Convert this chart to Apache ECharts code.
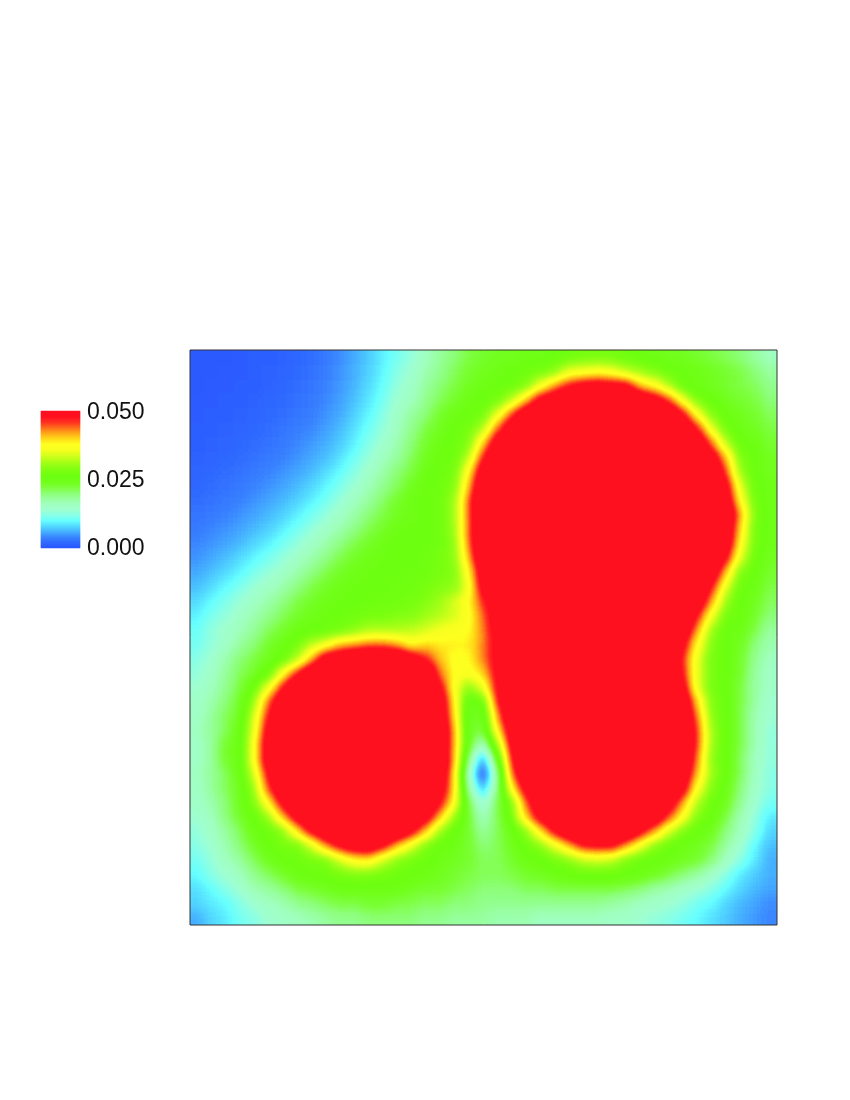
<!DOCTYPE html>
<html><head><meta charset="utf-8">
<script src="https://cdn.jsdelivr.net/npm/echarts@6/dist/echarts.min.js"></script>
<style>
html,body{margin:0;padding:0;background:#fff;width:850px;height:1100px;overflow:hidden}
#clip{position:absolute;left:190px;top:350px;width:587px;height:575px;overflow:hidden}
#heat{position:absolute;left:-29px;top:-29px;width:644px;height:633px;filter:url(#field)}
#main{position:absolute;left:0;top:0;width:850px;height:1100px}
</style></head><body>
<svg width="0" height="0" style="position:absolute"><filter id="field" x="0" y="0" width="100%" height="100%" color-interpolation-filters="sRGB">
<feGaussianBlur stdDeviation="6"/><feComponentTransfer><feFuncR id="fr" type="table"/><feFuncG id="fg" type="table"/><feFuncB id="fb" type="table"/></feComponentTransfer></filter></svg>
<div id="clip"><div id="heat"></div></div>
<div id="main"></div>
<script>
// field values in thousandths, top row first, left to right; the colour scale saturates at 50
const row00=[.5,.5,.6,.8,1,1.2,1.5,1.9,2.4,3.2,4.4,5.8,7.4,9.2,11,13,16,18,20,22,23,24,24,25,25,26,27,28,28,28,27,26,25,24,24,23,22,21,20,18,16];
const row01=[.5,.6,.7,.9,1.1,1.4,1.7,2.1,2.7,3.5,4.6,6,7.7,9.6,12,14,17,19,21,23,24,25,26,27,28,30,35,36,37,36,33,31,29,27,26,25,24,23,22,20,18];
const row02=[.6,.7,.8,1,1.2,1.5,1.9,2.4,3,3.8,4.9,6.4,8.2,10.2,13,15,18,20,22,24,25,26,27,29,36,42,47,50,51,50,49,41,38,32,27,25,24,23,22,21,19];
const row03=[.7,.8,1,1.2,1.4,1.8,2.2,2.7,3.3,4.1,5.3,6.9,8.8,11,14,16,19,21,23,25,26,28,33,40,50,54,60,63,65,64,60,56,51,45,36,29,26,24,23,22,20];
const row04=[.8,1,1.2,1.4,1.7,2.1,2.5,3,3.7,4.6,5.9,7.6,9.6,12,15,18,20,23,25,26,28,35,45,54,61,68,70,70,70,70,70,70,65,57,48,37,29,26,24,23,21];
const row05=[1,1.2,1.4,1.7,2,2.4,2.9,3.5,4.2,5.2,6.6,8.4,10.6,13,16,19,22,24,26,28,32,44,54,65,70,70,70,70,70,70,70,70,70,67,57,47,35,28,25,24,22];
const row06=[1.2,1.4,1.7,2,2.4,2.8,3.3,4,4.9,6,7.5,9.4,11.8,14.4,17,20,23,25,27,29,40,52,62,70,70,70,70,70,70,70,70,70,70,70,66,55,44,33,27,25,23];
const row07=[1.4,1.7,2,2.4,2.8,3.3,3.9,4.7,5.7,7,8.6,10.6,13.2,15.8,18,21,24,26,27,33,46,59,70,70,70,70,70,70,70,70,70,70,70,70,70,63,52,41,29,26,24];
const row08=[1.7,2,2.4,2.8,3.3,3.9,4.6,5.5,6.7,8.2,9.9,12,14.8,17.4,20,22,25,26,28,38,52,66,70,70,70,70,70,70,70,70,70,70,70,70,70,68,58,45,31,26,24];
const row09=[2,2.4,2.8,3.3,3.9,4.6,5.5,6.5,7.9,9.5,11.4,13.8,16.4,19,21,24,26,27,29,41,56,70,70,70,70,70,70,70,70,70,70,70,70,70,70,70,63,50,35,27,25];
const row10=[2.4,2.8,3.3,3.9,4.6,5.4,6.5,7.8,9.3,11,13.2,15.6,18.2,20.6,23,25,26,27,31,44,59,70,70,70,70,70,70,70,70,70,70,70,70,70,70,70,67,53,38,28,25];
const row11=[2.9,3.3,3.9,4.6,5.5,6.5,7.8,9.2,11,13,15.2,17.6,20,22,24,25,26,27,31,44,59,70,70,70,70,70,70,70,70,70,70,70,70,70,70,70,70,57,42,29,25];
const row12=[3.4,4,4.6,5.5,6.6,7.8,9.2,11,13,15.2,17.4,19.6,21.6,23.2,25,26,26,27,31,44,59,70,70,70,70,70,70,70,70,70,70,70,70,70,70,70,69,55,40,28,25];
const row13=[4,4.8,5.6,6.7,8,9.4,11,13,15.2,17.4,19.6,21.6,23.2,24.6,26,26,26,27,30,43,58,70,70,70,70,70,70,70,70,70,70,70,70,70,70,70,67,53,38,28,25];
const row14=[4.8,5.7,6.8,8.1,9.6,11.2,13,15.2,17.4,19.6,21.6,23.2,24.6,25.5,26,26,27,28,30,41,56,70,70,70,70,70,70,70,70,70,70,70,70,70,70,70,60,48,35,27,24];
const row15=[5.8,6.9,8.2,9.7,11.4,13.2,15.2,17.4,19.6,21.6,23.2,24.6,25.5,26,26,27,27,28,29,38,52,67,70,70,70,70,70,70,70,70,70,70,70,70,70,65,53,41,29,26,23];
const row16=[7,8.3,9.8,11.5,13.4,15.4,17.4,19.6,21.6,23.2,24.6,25.5,26,26,27,27,28,29,30,36,50,64,70,70,70,70,70,70,70,70,70,70,70,70,70,59,47,35,27,25,22];
const row17=[8.2,9.8,11.5,13.4,15.4,17.4,19.6,21.6,23.2,24.6,25.5,26,26.5,27,27,28,29,31,34,38,46,55,66,70,70,70,70,70,70,70,70,70,70,70,68,54,42,31,26,24,21];
const row18=[9.4,11.2,13,15,17,19,21,23,24.5,25.6,26.4,27,28,28,29,29,31,32,34,37,44,52,63,70,70,70,70,70,70,70,70,70,70,70,60,47,36,28,26,23,20];
const row19=[10.5,12.5,14.5,16.5,18.5,21,23,25,26,27,28,30,32,32,32,33,34,36,37,38,43,51,60,69,70,70,70,70,70,70,70,70,70,67,55,42,31,26,25,22,18];
const row20=[11,13,15,18,20,23,25,28,33,36,41,42,44,44,42,38,40,39,39,39,43,50,58,67,70,70,70,70,70,70,70,70,70,62,49,38,29,26,24,20,17];
const row21=[12,14,17,20,22,24,27,32,41,52,54,58,59,59,57,52,47,41,37,38,43,50,58,66,70,70,70,70,70,70,70,70,68,59,46,35,28,26,23,19,16];
const row22=[13,15,18,21,23,27,37,46,55,62,67,70,70,70,70,66,58,44,38,37,40,49,62,70,70,70,70,70,70,70,70,70,70,60,47,35,28,26,23,18,15];
const row23=[14,16,19,22,27,36,47,58,69,70,70,70,70,70,70,70,62,49,37,30,35,48,61,70,70,70,70,70,70,70,70,70,70,63,50,35,28,26,22,18,15];
const row24=[15,17,20,23,31,44,55,67,70,70,70,70,70,70,70,70,68,53,39,25,27,46,59,70,70,70,70,70,70,70,70,70,70,69,55,40,29,26,22,18,14];
const row25=[15,18,21,24,34,47,61,70,70,70,70,70,70,70,70,70,69,54,40,24,24,42,56,70,70,70,70,70,70,70,70,70,70,70,58,43,30,26,22,17,14];
const row26=[16,18,21,25,35,50,65,70,70,70,70,70,70,70,70,70,70,56,42,24,22,38,52,66,70,70,70,70,70,70,70,70,70,70,60,45,31,26,22,17,13];
const row27=[15,18,23,25,37,52,67,70,70,70,70,70,70,70,70,70,70,56,42,24,15,31,49,63,70,70,70,70,70,70,70,70,70,70,60,45,31,26,22,17,13];
const row28=[15,18,23,25,37,52,67,70,70,70,70,70,70,70,70,70,70,56,42,20,5,24,46,60,70,70,70,70,70,70,70,70,70,70,58,43,30,26,21,16,13];
const row29=[16,18,21,25,34,48,62,70,70,70,70,70,70,70,70,70,68,54,40,16,0,18,43,56,70,70,70,70,70,70,70,70,70,67,54,41,31,26,21,16,12];
const row30=[15,18,21,24,31,45,56,67,70,70,70,70,70,70,70,70,63,52,40,18,6,19,38,50,61,70,70,70,70,70,70,70,70,61,50,37,29,25,20,15,12];
const row31=[15,17,20,24,29,38,49,59,69,70,70,70,70,70,70,67,58,48,38,22,13,21,29,44,55,66,70,70,70,70,70,70,61,52,42,32,27,24,19,14,11];
const row32=[14,16,20,23,26,31,41,50,60,69,70,70,70,70,67,59,51,41,31,23,16,21,28,40,50,58,67,70,70,70,69,61,54,45,37,29,26,22,17,13,9];
const row33=[13,15,18,21,25,27,30,39,48,55,62,66,68,62,55,49,41,31,26,23,18,21,25,30,39,48,54,60,63,62,56,49,42,34,29,26,24,20,16,12,8];
const row34=[12,14,17,20,23,26,28,28,34,42,48,52,53,48,41,35,29,26,25,23,20,21,24,27,30,35,41,47,48,48,42,36,30,27,25,24,22,18,14,10,7];
const row35=[11,13,16,18,21,24,26,27,28,29,34,38,39,34,30,28,27,25,24,23,21,21,23,25,26,28,30,33,34,33,29,27,26,25,24,23,20,16,12,9,6];
const row36=[10,12,14,16,19,21,23,25,26,27,28,29,29,28,27,26,25,24,23,22,21,21,22,23,24,25,26,27,27,27,26,25,24,22,20,18,15,12,9,7.5,6];
const row37=[8.5,10,12,14,17,18,20,22,23,24,25,25,25,25,25,24,23,23,22,21,20,20,20,21,21,22,22,22,22,22,21,20,18,17,15,14,12,10,8,6.5,5.5];
const row38=[8,9,10,12,14,16,17,19,20,21,22,22,23,23,22,22,21,21,20,20,19,19,19,19,19,19,19,19,19,18,17,16,15,14,13,11,10,8,6.5,5.5,4.5];
const row39=[6,8,9,11,12,14,15,16,17,18,19,19,20,20,20,20,19,19,18,18,18,17,17,17,16,16,16,16,16,15,15,14,13,12,11,10,8.5,7.5,6,5,4];
const rows=[row00,row01,row02,row03,row04,row05,row06,row07,row08,row09,row10,row11,row12,row13,row14,row15,row16,row17,row18,row19,row20,row21,row22,row23,row24,row25,row26,row27,row28,row29,row30,row31,row32,row33,row34,row35,row36,row37,row38,row39];
const palette=['#2a55ff','#2f68ff','#3a85ff','#45b0ff','#52d8ff','#66ffff','#88ffe8','#a0ffd0','#a0ffc0','#98ffa0','#8cff78','#7eff40','#72ff1c','#6cff10','#78ff10','#90ff14','#b0ff18','#d8ff1c','#f8ff20','#ffff20','#ffd818','#ffa818','#ff6c1c','#ff3020','#ff1020','#ff1020'];
const overRange=['#ff1020','#ff1020','#ff1020','#ff1020','#ff1020','#ff1020','#ff1020','#ff1020','#ff1020','#ff1020'];

// the field is drawn as grey levels, softened, then coloured by the palette
const table=palette.concat(overRange);
const chan=o=>table.map(c=>(parseInt(c.substr(o,2),16)/255).toFixed(3)).join(' ');
document.getElementById('fr').setAttribute('tableValues',chan(1));
document.getElementById('fg').setAttribute('tableValues',chan(3));
document.getElementById('fb').setAttribute('tableValues',chan(5));

// edge cells repeat two steps past the frame so the soft edge falls outside the clip
const PAD=2,nR=rows.length,nC=rows[0].length,cells=[];
for(let j=-PAD;j<nR+PAD;j++)for(let i=-PAD;i<nC+PAD;i++){
  const r=rows[Math.min(nR-1,Math.max(0,j))];
  cells.push([i+PAD,j+PAD,r[Math.min(nC-1,Math.max(0,i))]/1000]);
}
const seq=n=>Array.from({length:n},(_,k)=>k);
const heat=echarts.init(document.getElementById('heat'),null,{renderer:'canvas'});
heat.setOption({animation:false,backgroundColor:'#000',
  grid:{left:0,right:0,top:0,bottom:0},
  xAxis:{type:'category',data:seq(nC+2*PAD),show:false},
  yAxis:{type:'category',data:seq(nR+2*PAD),inverse:true,show:false},
  visualMap:{show:false,min:0,max:0.07,inRange:{color:['#000000','#ffffff']},dimension:2,seriesIndex:0},
  series:[{type:'heatmap',data:cells,progressive:0,emphasis:{disabled:true}}]
});
const barSteps=seq(137),barCells=barSteps.map(k=>[0,k,(k+0.5)/137*0.05]);
const main=echarts.init(document.getElementById('main'),null,{renderer:'canvas'});
main.setOption({animation:false,
  grid:[
    {left:190,top:350,width:587,height:575,show:true,borderColor:'#333',borderWidth:1,backgroundColor:'transparent'},
    {left:41,top:413,width:39,height:136,show:false},
    {left:41,top:411,width:39,height:137,show:false}
  ],
  xAxis:[
    {gridIndex:0,type:'value',show:false,min:0,max:1},
    {gridIndex:1,type:'value',show:false,min:0,max:1},
    {gridIndex:2,type:'category',data:[0],show:false}
  ],
  yAxis:[
    {gridIndex:0,type:'value',show:false,min:0,max:1},
    {gridIndex:1,type:'value',min:0,max:0.05,interval:0.025,position:'right',
     axisLine:{show:false},axisTick:{show:false},splitLine:{show:false},
     axisLabel:{margin:7,fontFamily:'"Liberation Sans",Arial,sans-serif',fontSize:23,color:'#111',
       formatter:v=>v.toFixed(3)}},
    {gridIndex:2,type:'category',data:barSteps,show:false}
  ],
  visualMap:{show:false,min:0,max:0.05,inRange:{color:palette},dimension:2,seriesIndex:1},
  series:[
    {type:'line',xAxisIndex:1,yAxisIndex:1,data:[],silent:true},
    {type:'heatmap',xAxisIndex:2,yAxisIndex:2,data:barCells,silent:true,progressive:0}
  ]
});
</script></body></html>
